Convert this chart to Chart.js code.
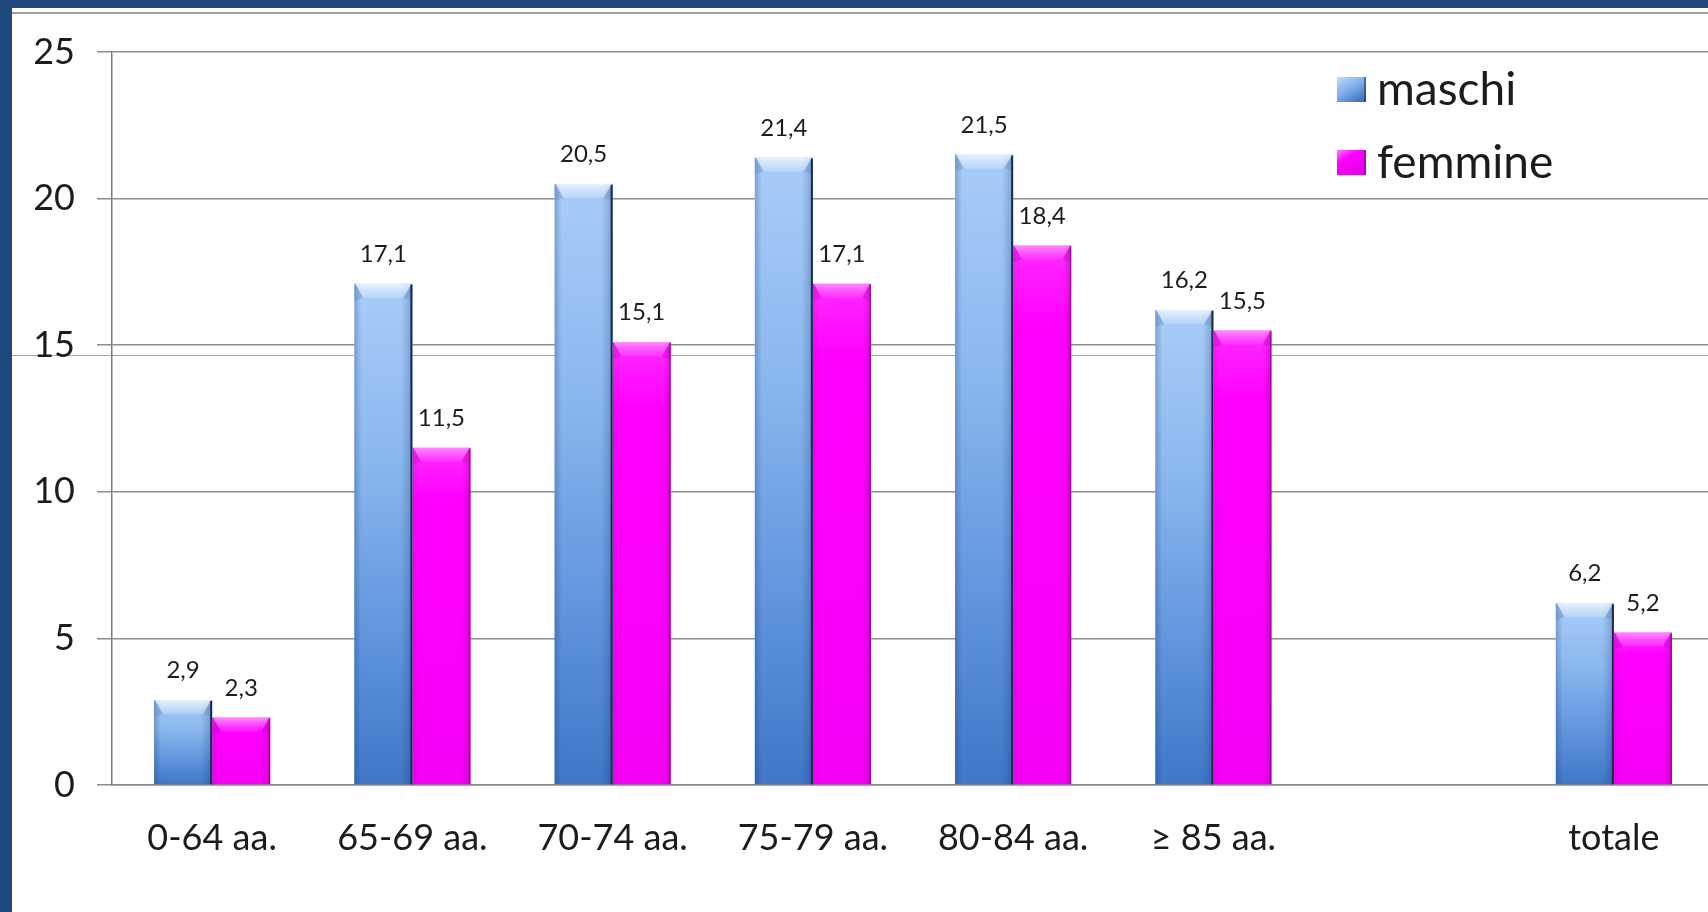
<!DOCTYPE html>
<html lang="it">
<head>
<meta charset="utf-8">
<title>maschi / femmine per classe di età</title>
<script src="https://cdn.jsdelivr.net/npm/chart.js@4.4.1/dist/chart.umd.min.js"></script>
<style>
  html, body { margin: 0; padding: 0; width: 1708px; height: 912px; overflow: hidden; background: #1f497d; }
  #panel { position: absolute; left: 12px; top: 8px; width: 1720px; height: 904px; background: #ffffff; overflow: hidden; }
  #topRule { position: absolute; left: 0; top: 4px; width: 100%; height: 2px; background: #a0a0a0; }
  #midRule { position: absolute; left: 0; top: 347px; width: 100%; height: 1px; background: #8fa9cd; }
  #chart { position: absolute; left: 0; top: 0; }
</style>
</head>
<body>
<div id="panel">
  <div id="topRule"></div>
  <div id="midRule"></div>
  <canvas id="chart" width="1720" height="904"></canvas>
</div>
<script>
// Categorie (classe di età) e valori per sesso
const categories = ['0-64 aa.', '65-69 aa.', '70-74 aa.', '75-79 aa.', '80-84 aa.', '≥ 85 aa.', '', 'totale'];
const maschi  = [2.9, 17.1, 20.5, 21.4, 21.5, 16.2, null, 6.2];
const femmine = [2.3, 11.5, 15.1, 17.1, 18.4, 15.5, null, 5.2];
const yTicks  = [0, 5, 10, 15, 20, 25];

const FONT = 'Lato, "Open Sans", sans-serif';
const TEXT = '#1c1c1c';

const blueStops = [[0, '#a9cdf8'], [0.35, '#8ab7ee'], [0.75, '#5b90da'], [1, '#3f77c6']];
const pinkStops = [[0, '#ff2bff'], [0.15, '#ff00ff'], [1, '#f600f6']];

// vertical gradient spanning each bar from its top to the zero line
function barFill(stops) {
  return (ctx) => {
    const chart = ctx.chart;
    if (!chart.chartArea || ctx.raw == null || ctx.type !== 'data') return stops[stops.length - 1][1];
    const y = chart.scales.y;
    const top = y.getPixelForValue(ctx.raw);
    const base = y.getPixelForValue(0);
    const g = chart.ctx.createLinearGradient(0, top, 0, base);
    stops.forEach(([o, c]) => g.addColorStop(o, c));
    return g;
  };
}

// bevelled top, side shading and dark right edge on every bar
const barShading = {
  id: 'barShading',
  afterDatasetsDraw(chart) {
    const c = chart.ctx;
    chart.data.datasets.forEach((ds, di) => {
      const meta = chart.getDatasetMeta(di);
      const isBlue = di === 0;
      meta.data.forEach((bar, i) => {
        if (ds.data[i] == null) return;
        const { x, y, width, base } = bar.getProps(['x', 'y', 'width', 'base'], true);
        const l = x - width / 2, r = x + width / 2;
        c.save();
        // side shading
        const hg = c.createLinearGradient(l, 0, r, 0);
        if (isBlue) {
          hg.addColorStop(0, 'rgba(20,50,110,0.28)');
          hg.addColorStop(0.12, 'rgba(20,50,110,0.0)');
          hg.addColorStop(0.8, 'rgba(20,50,110,0.0)');
          hg.addColorStop(1, 'rgba(10,30,80,0.25)');
        } else {
          hg.addColorStop(0, 'rgba(120,0,120,0.12)');
          hg.addColorStop(0.12, 'rgba(120,0,120,0.0)');
          hg.addColorStop(0.85, 'rgba(120,0,120,0.0)');
          hg.addColorStop(1, 'rgba(110,0,110,0.25)');
        }
        c.fillStyle = hg;
        c.fillRect(l, y, width, base - y);
        // bevelled cap
        const cap = Math.min(14, (base - y) / 2);
        const inset = 9;
        const vg = c.createLinearGradient(0, y, 0, y + cap);
        if (isBlue) {
          vg.addColorStop(0, 'rgba(255,255,255,0.75)');
          vg.addColorStop(1, 'rgba(215,236,255,0.35)');
        } else {
          vg.addColorStop(0, 'rgba(255,190,255,0.65)');
          vg.addColorStop(1, 'rgba(255,120,255,0.2)');
        }
        c.beginPath();
        c.moveTo(l + 1, y);
        c.lineTo(r - 1, y);
        c.lineTo(r - inset, y + cap);
        c.lineTo(l + inset, y + cap);
        c.closePath();
        c.fillStyle = vg;
        c.fill();
        // bevel corner shading
        c.fillStyle = isBlue ? 'rgba(90,130,190,0.3)' : 'rgba(180,0,180,0.25)';
        c.beginPath();
        c.moveTo(l, y); c.lineTo(l + inset, y + cap); c.lineTo(l, y + cap + 3); c.closePath(); c.fill();
        c.beginPath();
        c.moveTo(r, y); c.lineTo(r - inset, y + cap); c.lineTo(r, y + cap + 3); c.closePath(); c.fill();
        // dark right edge
        c.fillStyle = isBlue ? '#182b52' : 'rgba(120,0,120,0.55)';
        c.fillRect(r - (isBlue ? 2 : 1.5), y + 1, isBlue ? 2 : 1.5, base - y - 1);
        c.restore();
      });
    });
  }
};

// value labels above the bars, with decimal comma
const valueLabels = {
  id: 'valueLabels',
  afterDatasetsDraw(chart) {
    const c = chart.ctx;
    c.save();
    c.font = '24px ' + FONT;
    c.fillStyle = TEXT;
    c.textAlign = 'center';
    c.textBaseline = 'alphabetic';
    chart.data.datasets.forEach((ds, di) => {
      const meta = chart.getDatasetMeta(di);
      meta.data.forEach((bar, i) => {
        const v = ds.data[i];
        if (v == null) return;
        const { x, y } = bar.getProps(['x', 'y'], true);
        c.fillText(v.toFixed(1).replace('.', ','), x, y - 22);
      });
    });
    c.restore();
  }
};

// legend drawn in the upper right of the plot area
const cornerLegend = {
  id: 'cornerLegend',
  afterDraw(chart) {
    const c = chart.ctx;
    const x0 = 1325, y0 = 69, row = 73, box = 29;
    c.save();
    chart.data.datasets.forEach((ds, di) => {
      const top = y0 + di * row;
      const g = c.createLinearGradient(x0, top, x0 + box * 0.6, top + box);
      if (di === 0) {
        g.addColorStop(0, '#c2dcfb'); g.addColorStop(0.5, '#7eaee9'); g.addColorStop(1, '#3d70bd');
      } else {
        g.addColorStop(0, '#ff7aff'); g.addColorStop(0.35, '#ff00ff'); g.addColorStop(1, '#e000e0');
      }
      c.fillStyle = g;
      c.fillRect(x0, top, box, box - 4);
      c.fillStyle = di === 0 ? 'rgba(20,40,90,0.5)' : 'rgba(110,0,110,0.45)';
      c.fillRect(x0 + box - 2, top, 2, box - 4);
      c.font = '46px ' + FONT;
      c.fillStyle = TEXT;
      c.textAlign = 'left';
      c.textBaseline = 'middle';
      c.fillText(ds.label, x0 + box + 11, top + (box - 4) / 2 + 1);
    });
    c.restore();
  }
};

new Chart(document.getElementById('chart'), {
  type: 'bar',
  data: {
    labels: categories,
    datasets: [
      { label: 'maschi', data: maschi, backgroundColor: barFill(blueStops), borderWidth: 0 },
      { label: 'femmine', data: femmine, backgroundColor: barFill(pinkStops), borderWidth: 0 }
    ]
  },
  options: {
    responsive: false,
    devicePixelRatio: 1,
    animation: false,
    layout: { padding: { top: 44, right: 18, bottom: 0, left: 0 } },
    datasets: { bar: { categoryPercentage: 0.58, barPercentage: 1 } },
    plugins: { legend: { display: false }, tooltip: { enabled: false } },
    scales: {
      x: {
        grid: { display: false },
        border: { display: true, color: '#8c8c8c', width: 1.5 },
        ticks: { color: TEXT, font: { family: FONT, size: 36 }, padding: 24, maxRotation: 0, autoSkip: false },
        afterFit: (scale) => { scale.height = 127; }
      },
      y: {
        min: 0,
        max: 25,
        afterBuildTicks: (scale) => { scale.ticks = yTicks.map(v => ({ value: v })); },
        grid: { color: '#8c8c8c', lineWidth: 1.5, tickLength: 15, drawTicks: true },
        border: { display: true, color: '#7c7c7c', width: 1.5 },
        ticks: { color: TEXT, font: { family: FONT, size: 36 }, padding: 22 },
        afterFit: (scale) => { scale.width = 100; }
      }
    }
  },
  plugins: [barShading, valueLabels, cornerLegend]
});
</script>
</body>
</html>
